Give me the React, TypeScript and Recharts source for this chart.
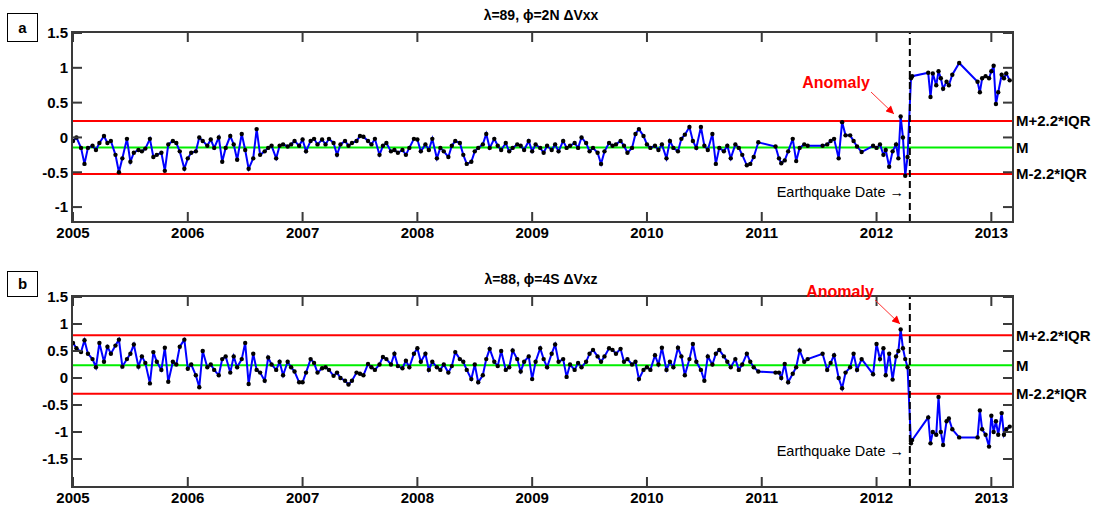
import React from "react"
import { LineChart, Line, XAxis, YAxis, ReferenceLine } from "recharts"

// sampling dates (decimal years)
const d2005 = [2005.00, 2005.03, 2005.07, 2005.10, 2005.13, 2005.17, 2005.20, 2005.23, 2005.27, 2005.30, 2005.33, 2005.37, 2005.40, 2005.43, 2005.47, 2005.50, 2005.53, 2005.57, 2005.60, 2005.63, 2005.67, 2005.70, 2005.73, 2005.77, 2005.80, 2005.83, 2005.87, 2005.90, 2005.93, 2005.97]
const d2006 = [2006.00, 2006.03, 2006.07, 2006.10, 2006.13, 2006.17, 2006.20, 2006.23, 2006.27, 2006.30, 2006.33, 2006.37, 2006.40, 2006.43, 2006.47, 2006.50, 2006.53, 2006.57, 2006.60, 2006.63, 2006.67, 2006.70, 2006.73, 2006.77, 2006.80, 2006.83, 2006.87, 2006.90, 2006.93, 2006.97]
const d2007 = [2007.00, 2007.03, 2007.07, 2007.10, 2007.13, 2007.17, 2007.20, 2007.23, 2007.27, 2007.30, 2007.33, 2007.37, 2007.40, 2007.43, 2007.47, 2007.50, 2007.53, 2007.57, 2007.60, 2007.63, 2007.67, 2007.70, 2007.73, 2007.77, 2007.80, 2007.83, 2007.87, 2007.90, 2007.93, 2007.97]
const d2008 = [2008.00, 2008.03, 2008.07, 2008.10, 2008.13, 2008.17, 2008.20, 2008.23, 2008.27, 2008.30, 2008.33, 2008.37, 2008.40, 2008.43, 2008.47, 2008.50, 2008.53, 2008.57, 2008.60, 2008.63, 2008.67, 2008.70, 2008.73, 2008.77, 2008.80, 2008.83, 2008.87, 2008.90, 2008.93, 2008.97]
const d2009 = [2009.00, 2009.03, 2009.07, 2009.10, 2009.13, 2009.17, 2009.20, 2009.23, 2009.27, 2009.30, 2009.33, 2009.37, 2009.40, 2009.43, 2009.47, 2009.50, 2009.53, 2009.57, 2009.60, 2009.63, 2009.67, 2009.70, 2009.73, 2009.77, 2009.80, 2009.83, 2009.87, 2009.90, 2009.93, 2009.97]
const d2010 = [2010.00, 2010.03, 2010.07, 2010.10, 2010.13, 2010.17, 2010.20, 2010.23, 2010.27, 2010.30, 2010.33, 2010.37, 2010.40, 2010.43, 2010.47, 2010.50, 2010.53, 2010.57, 2010.60, 2010.63, 2010.67, 2010.70, 2010.73, 2010.77, 2010.80, 2010.83, 2010.87, 2010.90, 2010.93, 2010.97]
const d2011 = [2011.12, 2011.15, 2011.17, 2011.20, 2011.23, 2011.27, 2011.30, 2011.33, 2011.37, 2011.40, 2011.53, 2011.57, 2011.60, 2011.63, 2011.67, 2011.70, 2011.73, 2011.77, 2011.80, 2011.83, 2011.87]
const dPre = [2011.97, 2012.00, 2012.03, 2012.06, 2012.08, 2012.11, 2012.14, 2012.17, 2012.19, 2012.21, 2012.23, 2012.25, 2012.27]
const dPost = [2012.30, 2012.31, 2012.45, 2012.47, 2012.49, 2012.52, 2012.54, 2012.56, 2012.58, 2012.61, 2012.63, 2012.66, 2012.72, 2012.88, 2012.90, 2012.92, 2012.95, 2012.98, 2013.00, 2013.02, 2013.04, 2013.06, 2013.09, 2013.11, 2013.13, 2013.16]

// panel a: lambda=89, phi=2N, dVxx
const vxx2005 = [-0.05, 0.00, -0.15, -0.38, -0.15, -0.12, -0.18, -0.08, 0.02, -0.08, -0.05, -0.25, -0.50, -0.30, -0.02, -0.35, -0.22, -0.18, -0.20, -0.16, -0.02, -0.28, -0.25, -0.22, -0.48, -0.10, -0.05, -0.08, -0.20, -0.45]
const vxx2006 = [-0.30, -0.22, -0.20, 0.00, -0.05, -0.12, -0.03, -0.15, 0.00, -0.35, -0.15, 0.02, -0.10, -0.32, 0.05, -0.18, -0.45, -0.30, 0.12, -0.25, -0.20, -0.15, -0.12, -0.30, -0.12, -0.10, -0.13, -0.10, -0.05, -0.12]
const vxx2007 = [-0.03, -0.20, -0.05, -0.02, -0.10, -0.03, -0.10, -0.02, -0.08, -0.25, -0.10, -0.05, -0.12, -0.08, -0.05, 0.02, 0.01, -0.05, -0.10, -0.02, -0.25, -0.12, -0.08, -0.20, -0.18, -0.22, -0.18, -0.25, -0.15, -0.02]
const vxx2008 = [-0.03, -0.20, -0.10, -0.18, -0.02, -0.30, -0.15, -0.20, -0.28, -0.12, -0.05, -0.08, -0.25, -0.38, -0.35, -0.20, -0.15, -0.10, 0.05, -0.15, -0.02, -0.12, -0.18, -0.08, -0.20, -0.15, -0.10, -0.12, -0.18, -0.05]
const vxx2009 = [-0.20, -0.10, -0.15, -0.22, -0.12, -0.18, -0.10, -0.20, -0.05, -0.15, -0.12, -0.08, -0.15, 0.00, -0.08, -0.20, -0.15, -0.22, -0.38, -0.20, -0.08, -0.12, -0.10, -0.05, -0.12, -0.22, -0.15, 0.05, 0.12, 0.02]
const vxx2010 = [-0.10, -0.15, -0.12, -0.18, -0.10, -0.30, -0.05, -0.15, -0.20, -0.02, 0.04, 0.15, -0.05, -0.15, 0.15, -0.12, -0.18, 0.05, -0.38, -0.15, -0.20, -0.12, -0.30, -0.10, -0.15, -0.25, -0.40, -0.38, -0.28, -0.07]
const vxx2011 = [-0.13, -0.30, -0.37, -0.33, -0.20, -0.02, -0.34, -0.15, -0.10, -0.12, -0.12, -0.10, -0.05, -0.02, -0.30, 0.22, 0.03, 0.03, -0.05, -0.13, -0.21]
const vxxPre = [-0.12, -0.15, -0.10, -0.25, -0.18, -0.42, -0.20, -0.10, -0.30, 0.30, 0.00, -0.55, -0.28]
const vxxPost = [0.85, 0.88, 0.93, 0.58, 0.92, 0.75, 0.95, 0.85, 0.70, 0.80, 0.75, 0.90, 1.07, 0.80, 0.65, 0.85, 0.88, 0.85, 0.95, 1.03, 0.48, 0.65, 0.90, 0.85, 0.92, 0.82]

// panel b: lambda=88, phi=4S, dVxz
const vxz2005 = [0.65, 0.55, 0.48, 0.70, 0.45, 0.35, 0.20, 0.65, 0.30, 0.58, 0.45, 0.60, 0.71, 0.21, 0.35, 0.45, 0.62, 0.21, 0.40, 0.28, -0.10, 0.48, 0.30, 0.15, 0.56, -0.07, 0.30, 0.25, 0.58, 0.71]
const vxz2006 = [0.17, 0.25, 0.05, -0.17, 0.50, 0.20, 0.25, 0.15, 0.05, 0.35, 0.40, 0.10, 0.40, 0.20, 0.35, 0.65, -0.11, 0.45, 0.15, 0.10, -0.05, 0.38, 0.25, 0.15, 0.30, 0.05, 0.30, 0.20, 0.12, -0.08]
const vxz2007 = [-0.08, 0.10, 0.35, 0.28, 0.10, 0.18, 0.20, 0.15, 0.04, 0.10, 0.00, -0.05, -0.12, -0.05, 0.10, 0.08, 0.05, 0.26, 0.20, 0.15, 0.25, 0.39, 0.35, 0.25, 0.45, 0.22, 0.18, 0.32, 0.20, 0.45]
const vxz2008 = [0.55, 0.30, 0.45, 0.15, 0.30, 0.20, 0.15, 0.25, 0.10, 0.22, 0.48, 0.35, 0.30, 0.15, -0.02, 0.25, -0.08, 0.05, 0.35, 0.54, 0.30, 0.22, 0.50, 0.15, 0.20, 0.51, 0.35, 0.12, 0.30, 0.40]
const vxz2009 = [-0.02, 0.30, 0.55, 0.35, 0.20, 0.45, 0.62, 0.30, 0.35, 0.02, 0.25, 0.15, 0.28, 0.20, 0.30, 0.45, 0.52, 0.40, 0.30, 0.40, 0.55, 0.52, 0.45, 0.54, 0.30, 0.35, 0.25, 0.30, -0.02, 0.15]
const vxz2010 = [0.20, 0.15, 0.42, 0.25, 0.56, 0.15, 0.30, 0.20, 0.56, 0.40, 0.05, 0.35, 0.63, 0.30, 0.15, -0.05, 0.40, 0.25, 0.45, 0.52, 0.40, 0.30, 0.20, 0.35, 0.15, 0.25, 0.45, 0.30, 0.20, 0.12]
const vxz2011 = [0.10, 0.10, 0.00, 0.26, -0.08, 0.08, 0.20, 0.51, 0.30, 0.35, 0.45, 0.15, 0.28, 0.42, 0.00, -0.19, 0.10, 0.20, 0.45, 0.15, 0.35]
const vxzPre = [0.07, 0.63, 0.35, 0.55, 0.05, 0.45, -0.03, 0.40, 0.50, 0.90, 0.55, 0.35, 0.20]
const vxzPost = [-1.21, -1.15, -0.73, -1.21, -1.00, -1.05, -0.35, -1.00, -1.24, -0.80, -0.75, -0.95, -1.10, -1.10, -0.60, -0.95, -1.05, -1.27, -0.70, -1.00, -0.80, -1.05, -0.65, -1.05, -0.95, -0.90]

const dates = [...d2005, ...d2006, ...d2007, ...d2008, ...d2009, ...d2010, ...d2011, ...dPre, ...dPost]
const vxx = [...vxx2005, ...vxx2006, ...vxx2007, ...vxx2008, ...vxx2009, ...vxx2010, ...vxx2011, ...vxxPre, ...vxxPost]
const vxz = [...vxz2005, ...vxz2006, ...vxz2007, ...vxz2008, ...vxz2009, ...vxz2010, ...vxz2011, ...vxzPre, ...vxzPost]

const yearTicks = [2005, 2006, 2007, 2008, 2009, 2010, 2011, 2012, 2013]
const xDomain = [2005, 2013.18]
const ticksA = [-1, -0.5, 0, 0.5, 1, 1.5]
const ticksB = [-1.5, -1, -0.5, 0, 0.5, 1, 1.5]
const quakeDate = 2012.29

// median and M +/- 2.2*IQR bounds
const boundsA = [0.235, -0.145, -0.525]
const boundsB = [0.79, 0.235, -0.29]

const font = "Arial, 'Liberation Sans', Helvetica, sans-serif"
const TICK = 9
const axisColor = "#3a3a3a"
const PLOT_LEFT = 73
const PLOT_W = 939

// bottom axis tick: inward tick at the bottom plus the matching one at the top edge
const BottomTick = (props: any) => {
  const { x, y, payload, plotH } = props
  return (
    <g>
      <rect x={x - 1} y={y - TICK} width={2} height={TICK} fill={axisColor} />
      <rect x={x - 1} y={y - plotH} width={2} height={TICK} fill={axisColor} />
      <text x={x} y={y + 16.5} textAnchor="middle" fontFamily={font} fontWeight="bold" fontSize={15} fill="#000">
        {payload.value}
      </text>
    </g>
  )
}
// left axis tick: inward tick on the left edge plus the matching one on the right edge
const LeftTick = (props: any) => {
  const { x, y, payload } = props
  return (
    <g>
      <rect x={x} y={y - 1} width={TICK} height={2} fill={axisColor} />
      <rect x={x + PLOT_W - TICK} y={y - 1} width={TICK} height={2} fill={axisColor} />
      <text x={x - 5} y={y} dy="0.36em" textAnchor="end" fontFamily={font} fontWeight="bold" fontSize={15} fill="#000">
        {payload.value}
      </text>
    </g>
  )
}

const renderDot = (p: any) => <circle key={`d${p.index}`} cx={p.cx} cy={p.cy} r={2.2} fill="#000" />

const sideLabel = (value: string) => ({
  value,
  position: "right" as const,
  offset: 4,
  fill: "#000",
  fontSize: 15,
  fontWeight: "bold",
  fontFamily: font,
})

function Panel({ values, yDomain, yTicks, bounds, height, axisTop, axisBottom }: any) {
  const data = dates.map((t, i) => ({ t, v: values[i] }))
  const plotH = height - axisTop - axisBottom
  return (
    <LineChart width={1100} height={height} data={data} margin={{ top: axisTop, right: 88, bottom: 0, left: 0 }}>
      <XAxis dataKey="t" type="number" domain={xDomain} ticks={yearTicks} allowDataOverflow
        height={axisBottom} tickSize={0} tickMargin={0} tickLine={false} axisLine={false}
        tick={<BottomTick plotH={plotH} />} />
      <YAxis type="number" domain={yDomain} ticks={yTicks} allowDataOverflow width={PLOT_LEFT}
        tickSize={0} tickMargin={0} tickLine={false} axisLine={false} tick={<LeftTick />} />
      <ReferenceLine y={bounds[0]} stroke="#ff0000" strokeWidth={2} label={sideLabel("M+2.2*IQR")} />
      <ReferenceLine y={bounds[1]} stroke="#00ee00" strokeWidth={2} label={sideLabel("M")} />
      <ReferenceLine y={bounds[2]} stroke="#ff0000" strokeWidth={2} label={sideLabel("M-2.2*IQR")} />
      <Line dataKey="v" stroke="#0000ff" strokeWidth={2} dot={renderDot} activeDot={false} isAnimationActive={false} />
      <ReferenceLine x={quakeDate} stroke="#000" strokeWidth={2} strokeDasharray="7 4" />
    </LineChart>
  )
}

export default function App() {
  return (
    <div style={{ position: "absolute", left: 0, top: 0, width: 1100, height: 506, background: "#fff" }}>
      <div style={{ position: "absolute", left: 0, top: 0 }}>
        <Panel values={vxx} yDomain={[-1.2, 1.5]} yTicks={ticksA} bounds={boundsA} height={250} axisTop={33} axisBottom={29} />
      </div>
      <div style={{ position: "absolute", left: 0, top: 250 }}>
        <Panel values={vxz} yDomain={[-2, 1.5]} yTicks={ticksB} bounds={boundsB} height={256} axisTop={47} axisBottom={20} />
      </div>
      <svg width={1100} height={506} style={{ position: "absolute", left: 0, top: 0, pointerEvents: "none" }}>
        <defs>
          <marker id="redHead" viewBox="0 0 10 10" refX="10" refY="5" markerWidth="9" markerHeight="8" orient="auto" markerUnits="userSpaceOnUse">
            <path d="M0,0 L10,5 L0,10 z" fill="#ff0000" />
          </marker>
        </defs>
        {/* axes boxes */}
        <rect x={72} y={32} width={941} height={190} fill="none" stroke={axisColor} strokeWidth={2} />
        <rect x={72} y={296} width={941} height={191} fill="none" stroke={axisColor} strokeWidth={2} />
        <g fontFamily={font}>
          <text x={541} y={20} textAnchor="middle" fontSize={14} fontWeight="bold">λ=89, ϕ=2N ΔVxx</text>
          <text x={541} y={284} textAnchor="middle" fontSize={14} fontWeight="bold">λ=88, ϕ=4S ΔVxz</text>

          <rect x={7.5} y={13.5} width={30} height={28} fill="#fff" stroke="#000" />
          <text x={22.5} y={33} textAnchor="middle" fontSize={15} fontWeight="bold">a</text>
          <rect x={7.5} y={271.5} width={30} height={25} fill="#fff" stroke="#000" />
          <text x={22.5} y={289} textAnchor="middle" fontSize={15} fontWeight="bold">b</text>

          <text x={836} y={88} textAnchor="middle" fontSize={16} fontWeight="bold" fill="#ff0000">Anomaly</text>
          <line x1={871} y1={92} x2={894} y2={114} stroke="#ff3030" strokeWidth={1} markerEnd="url(#redHead)" />
          <text x={840} y={297} textAnchor="middle" fontSize={16} fontWeight="bold" fill="#ff0000">Anomaly</text>
          <line x1={875} y1={300} x2={900} y2={324} stroke="#ff3030" strokeWidth={1} markerEnd="url(#redHead)" />

          <text x={904} y={197} textAnchor="end" fontSize={14.5} fill="#000">Earthquake Date →</text>
          <text x={904} y={456} textAnchor="end" fontSize={14.5} fill="#000">Earthquake Date →</text>
        </g>
      </svg>
    </div>
  )
}
